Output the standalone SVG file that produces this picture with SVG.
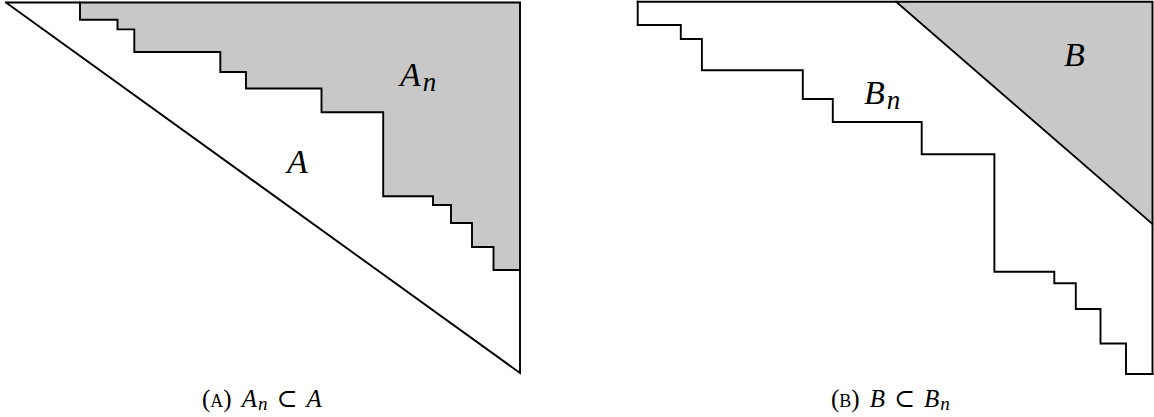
<svg xmlns="http://www.w3.org/2000/svg" width="1154" height="417" viewBox="0 0 1154 417">
<style>
.bg{fill:#ffffff}
.shade{fill:#c8c8c8;stroke:none}
.ln{fill:none;stroke:#000;stroke-width:1.9;stroke-linejoin:miter;stroke-linecap:square}
.lbl{font-family:"Liberation Serif","DejaVu Serif",serif;font-style:italic;font-size:34px;fill:#000}
.sub{font-size:27px}
.cap{font-family:"Liberation Serif","DejaVu Serif",serif;font-size:25px;fill:#000}
.it{font-style:italic}
.sc{font-size:18px}
.csub{font-size:19px;font-style:italic}
</style>
<rect class="bg" x="0" y="0" width="1154" height="417"/>
<g id="panel-a">
  <polygon class="shade" points="80,2.5 520,2.5 520,270 493.5,270 493.5,247 472,247 472,223 451,223 451,205 433,205 433,196.3 383.2,196.3 383.2,112.3 321.5,112.3 321.5,88.5 246,88.5 246,72 220.3,72 220.3,52 134.3,52 134.3,29.4 117.5,29.4 117.5,19.7 80,19.7"/>
  <polyline class="ln" points="6,2.5 520,2.5 520,373 6,2.5"/>
  <polyline class="ln" points="80,2.5 80,19.7 117.5,19.7 117.5,29.4 134.3,29.4 134.3,52 220.3,52 220.3,72 246,72 246,88.5 321.5,88.5 321.5,112.3 383.2,112.3 383.2,196.3 433,196.3 433,205 451,205 451,223 472,223 472,247 493.5,247 493.5,270 520,270"/>
  <text class="lbl" x="400" y="86">A<tspan class="sub" dy="5" dx="2">n</tspan></text>
  <text class="lbl" x="287" y="173">A</text>
  <text class="cap" x="202" y="407">(<tspan class="sc">A</tspan>)<tspan class="it" dx="10">A</tspan><tspan class="csub" dy="3" dx="1">n</tspan><tspan dy="-3" dx="9">⊂</tspan><tspan class="it" dx="9">A</tspan></text>
</g>
<g id="panel-b">
  <polygon class="shade" points="896,1.7 1152.5,1.7 1152.5,224"/>
  <polyline class="ln" points="637.7,1.7 1152.5,1.7 1152.5,374"/>
  <line class="ln" x1="896" y1="1.7" x2="1152.5" y2="224"/>
  <polyline class="ln" points="637.7,1.7 637.7,25 680.8,25 680.8,39 701.9,39 701.9,70.3 802.8,70.3 802.8,99 832.8,99 832.8,122 921.7,122 921.7,154.3 994.4,154.3 994.4,271.7 1054.3,271.7 1054.3,283.3 1075.8,283.3 1075.8,309 1100.5,309 1100.5,343.5 1126,343.5 1126,374 1152.5,374"/>
  <text class="lbl" x="864" y="104">B<tspan class="sub" dy="5" dx="2">n</tspan></text>
  <text class="lbl" x="1064" y="66">B</text>
  <text class="cap" x="831" y="407">(<tspan class="sc">B</tspan>)<tspan class="it" dx="10">B</tspan><tspan dx="9">⊂</tspan><tspan class="it" dx="9">B</tspan><tspan class="csub" dy="3" dx="1">n</tspan></text>
</g>
</svg>
